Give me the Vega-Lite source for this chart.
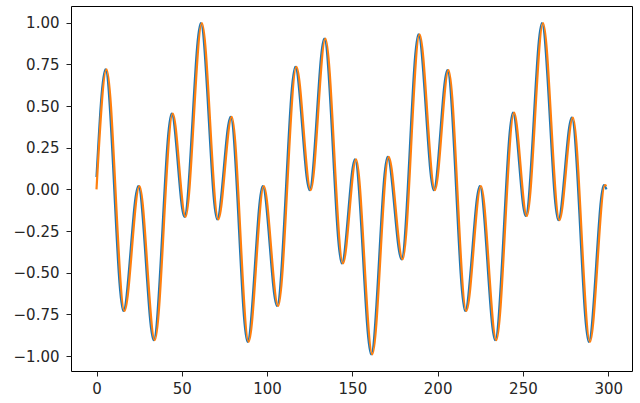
{
  "$schema": "https://vega.github.io/schema/vega-lite/v6.json",
  "width": 561,
  "height": 365,
  "autosize": {"type": "none"},
  "padding": {"left": 71, "top": 6, "right": 8, "bottom": 32},
  "background": "#ffffff",
  "config": {
    "view": {"stroke": "#000000", "strokeWidth": 1},
    "axis": {
      "grid": false,
      "domain": false,
      "tickColor": "#222222",
      "tickSize": 5,
      "tickWidth": 1,
      "labelFont": "DejaVu Sans",
      "labelFontSize": 15,
      "labelColor": "#262626",
      "labelPadding": 6,
      "title": null
    }
  },
  "datasets": {
    "pred": [
      {"x": 0, "y": 0.074},
      {"x": 5.2, "y": 0.72},
      {"x": 15.7, "y": -0.73},
      {"x": 24.5, "y": 0.02},
      {"x": 33.5, "y": -0.905},
      {"x": 44.0, "y": 0.455},
      {"x": 51.5, "y": -0.165},
      {"x": 61.1, "y": 0.997},
      {"x": 70.7, "y": -0.18},
      {"x": 78.6, "y": 0.435},
      {"x": 88.5, "y": -0.915},
      {"x": 97.4, "y": 0.02},
      {"x": 105.8, "y": -0.7},
      {"x": 116.5, "y": 0.735},
      {"x": 124.9, "y": -0.005},
      {"x": 133.5, "y": 0.905},
      {"x": 143.8, "y": -0.445},
      {"x": 151.5, "y": 0.18},
      {"x": 161.0, "y": -0.99},
      {"x": 170.6, "y": 0.195},
      {"x": 178.8, "y": -0.42},
      {"x": 188.7, "y": 0.93},
      {"x": 197.7, "y": -0.005},
      {"x": 205.7, "y": 0.715},
      {"x": 216.1, "y": -0.73},
      {"x": 224.7, "y": 0.02},
      {"x": 233.7, "y": -0.905},
      {"x": 244.1, "y": 0.46},
      {"x": 251.6, "y": -0.16},
      {"x": 261.1, "y": 0.997},
      {"x": 270.7, "y": -0.185},
      {"x": 278.6, "y": 0.43},
      {"x": 288.6, "y": -0.915},
      {"x": 297.4, "y": 0.025},
      {"x": 299, "y": 0.0}
    ],
    "actual": [
      {"x": 0, "y": 0.0},
      {"x": 5.9, "y": 0.72},
      {"x": 16.4, "y": -0.73},
      {"x": 25.2, "y": 0.02},
      {"x": 34.2, "y": -0.905},
      {"x": 44.7, "y": 0.455},
      {"x": 52.2, "y": -0.165},
      {"x": 61.8, "y": 0.997},
      {"x": 71.4, "y": -0.18},
      {"x": 79.3, "y": 0.435},
      {"x": 89.2, "y": -0.915},
      {"x": 98.1, "y": 0.02},
      {"x": 106.5, "y": -0.7},
      {"x": 117.2, "y": 0.735},
      {"x": 125.6, "y": -0.005},
      {"x": 134.2, "y": 0.905},
      {"x": 144.5, "y": -0.445},
      {"x": 152.2, "y": 0.18},
      {"x": 161.7, "y": -0.99},
      {"x": 171.3, "y": 0.195},
      {"x": 179.5, "y": -0.42},
      {"x": 189.4, "y": 0.93},
      {"x": 198.4, "y": -0.005},
      {"x": 206.4, "y": 0.715},
      {"x": 216.8, "y": -0.73},
      {"x": 225.4, "y": 0.02},
      {"x": 234.4, "y": -0.905},
      {"x": 244.8, "y": 0.46},
      {"x": 252.3, "y": -0.16},
      {"x": 261.8, "y": 0.997},
      {"x": 271.4, "y": -0.185},
      {"x": 279.3, "y": 0.43},
      {"x": 289.3, "y": -0.915},
      {"x": 298.1, "y": 0.025},
      {"x": 299, "y": 0.02}
    ]
  },
  "encoding": {
    "x": {
      "field": "x",
      "type": "quantitative",
      "scale": {"domain": [-14.95, 313.95], "nice": false, "zero": false},
      "axis": {"values": [0, 50, 100, 150, 200, 250, 300], "format": "d", "labelPadding": 5}
    },
    "y": {
      "field": "y",
      "type": "quantitative",
      "scale": {"domain": [-1.09, 1.1], "nice": false, "zero": false},
      "axis": {"values": [-1, -0.75, -0.5, -0.25, 0, 0.25, 0.5, 0.75, 1], "format": ".2f", "labelPadding": 7}
    }
  },
  "layer": [
    {
      "data": {"name": "pred"},
      "mark": {"type": "line", "interpolate": "monotone", "color": "#1f77b4", "strokeWidth": 2.2, "clip": true}
    },
    {
      "data": {"name": "actual"},
      "mark": {"type": "line", "interpolate": "monotone", "color": "#ff7f0e", "strokeWidth": 2.2, "clip": true}
    }
  ]
}
